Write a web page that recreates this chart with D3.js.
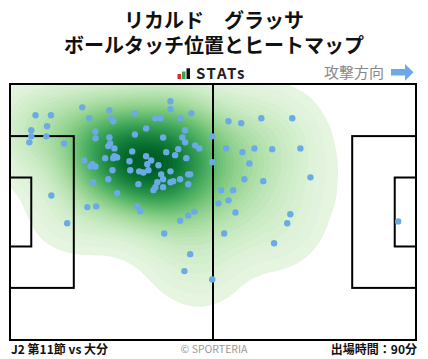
<!DOCTYPE html>
<html><head><meta charset="utf-8">
<script src="https://cdn.jsdelivr.net/npm/d3@7"></script>
<style>
html,body{margin:0;padding:0;background:#fff;}
svg{display:block;}
text{font-family:"Noto Sans CJK JP","Noto Sans",sans-serif;}
</style></head>
<body><svg id="c" width="428" height="359"></svg>
<script>
// --- data (pitch metres, 105 x 68, attack to the right) ---
const titleLines = ["リカルド　グラッサ", "ボールタッチ位置とヒートマップ"];
const footerLeft = "J2 第11節 vs 大分";
const footerCenter = "© SPORTERIA";
const footerRight = "出場時間：90分";
const touchX = [6.6,10.6,18.7,25.7,41.5,41.5,32.3,46.9,20.5,26.2,26.7,37.6,38.9,44.0,9.6,5.5,5.5,5.0,9.4,14.0,
  22.1,22.1,35.2,32.3,45.3,39.6,44.6,25.7,45.3,47.9,49.0,52.3,25.9,25.4,27.0,31.6,40.4,43.5,42.7,45.6,
  27.0,27.7,26.7,24.6,19.2,35.2,36.5,30.9,35.5,38.4,21.3,20.8,22.1,52.3,26.5,31.1,33.4,34.5,35.8,41.5,
  39.1,46.1,46.6,39.6,44.0,42.2,41.5,38.1,25.4,21.5,33.2,46.1,37.6,37.1,39.6,27.7,10.7,20.0,22.3,32.9,
  33.7,47.7,46.1,44.0,14.8,39.9,46.6,45.1,52.3,56.5,59.8,65.0,73.0,55.9,60.1,63.2,67.8,75.1,61.9,60.6,
  65.5,77.7,54.6,57.7,56.5,53.9,58.3,72.5,71.7,55.4,68.3,100.4];
const touchY = [8.3,8.3,6.2,7.0,4.6,6.7,7.8,7.8,9.1,9.1,9.9,9.1,9.1,9.1,11.2,12.3,13.9,15.5,13.9,15.8,
  12.6,14.4,11.8,13.4,12.3,14.2,14.2,14.2,15.5,16.3,17.1,13.9,15.8,16.5,17.1,17.9,18.1,17.3,18.9,19.7,
  19.2,19.5,19.7,19.7,20.3,19.2,20.3,20.5,21.3,21.6,21.3,21.9,21.9,20.8,22.9,22.9,23.2,23.5,22.9,23.2,
  24.0,24.0,24.0,25.3,25.3,25.8,26.1,26.1,25.3,26.1,26.6,26.6,27.4,28.2,27.4,29.0,29.6,32.7,32.5,32.5,
  33.8,33.9,34.9,36.3,37.0,39.7,45.2,49.7,51.9,9.9,10.4,9.1,9.1,17.1,18.1,17.1,17.3,17.1,21.1,25.3,
  25.8,24.8,28.2,28.2,30.9,31.7,34.1,34.6,37.0,39.7,42.3,36.5];

const svg = d3.select("#c");
const W = 428;
const x = d3.scaleLinear().domain([0,105]).range([10,416]);
const y = d3.scaleLinear().domain([0,68]).range([84,340]);

// title (one text block, two lines)
svg.append("text").attr("text-anchor","middle").attr("font-size",20).attr("font-weight","bold").attr("fill","#111")
  .selectAll("tspan").data(titleLines).join("tspan")
  .attr("x",W/2).attr("y",(d,i)=>28+i*25).text(d=>d);

// STATs logo
const logo = svg.append("g");
logo.append("rect").attr("x",177.5).attr("y",74).attr("width",3.5).attr("height",5).attr("fill","#e8262a");
logo.append("rect").attr("x",182).attr("y",71.5).attr("width",3.5).attr("height",7.5).attr("fill","#2ea84a");
logo.append("rect").attr("x",186.5).attr("y",68.3).attr("width",3.5).attr("height",10.7).attr("fill","#111");
logo.append("text").attr("x",196).attr("y",79).attr("font-size",15).attr("font-weight","bold")
  .attr("fill","#222").attr("font-family","'DejaVu Sans',sans-serif").attr("letter-spacing",1.6).text("STATs");

// attack direction
svg.append("text").attr("x",384).attr("y",78).attr("text-anchor","end").attr("font-size",15)
  .attr("fill","#888").text("攻撃方向");
svg.append("path").attr("d","M391,69 L405,69 L405,64 L413.5,72.3 L405,80.7 L405,75.5 L391,75.5 Z").attr("fill","#6aaae6");

// heatmap
const pts = touchX.map((v,i)=>[x(v), y(touchY[i])]);
const bw = 26;
const pre = d3.contourDensity().x(d=>d[0]).y(d=>d[1]).size([W,359]).bandwidth(bw).thresholds(200)(pts);
const maxV = d3.max(pre, d=>d.value);
const nLev = 40;
const levels = d3.range(nLev).map(i => maxV*(0.04 + 0.96*i/nLev));
const dens = d3.contourDensity().x(d=>d[0]).y(d=>d[1]).size([W,359]).bandwidth(bw).thresholds(levels)(pts);
svg.append("clipPath").attr("id","pc").append("rect").attr("x",x(0)).attr("y",y(0))
  .attr("width",x(105)-x(0)).attr("height",y(68)-y(0));
svg.append("g").attr("clip-path","url(#pc)").selectAll("path").data(dens).join("path")
  .attr("d", d3.geoPath()).attr("fill", d=>d3.interpolateGreens(0.08 + 0.86*d.value/maxV));

// pitch lines
const g = svg.append("g").attr("fill","none").attr("stroke","#000").attr("stroke-width",2);
g.append("rect").attr("x",x(0)).attr("y",y(0)).attr("width",x(105)-x(0)).attr("height",y(68)-y(0));
g.append("line").attr("x1",x(52.5)).attr("x2",x(52.5)).attr("y1",y(0)).attr("y2",y(68));
const pbY0 = 34-20.16, pbY1 = 34+20.16, gaY0 = 34-9.16, gaY1 = 34+9.16;
g.append("rect").attr("x",x(0)).attr("y",y(pbY0)).attr("width",x(16.5)-x(0)).attr("height",y(pbY1)-y(pbY0));
g.append("rect").attr("x",x(0)).attr("y",y(gaY0)).attr("width",x(5.5)-x(0)).attr("height",y(gaY1)-y(gaY0));
g.append("rect").attr("x",x(105-16.5)).attr("y",y(pbY0)).attr("width",x(105)-x(105-16.5)).attr("height",y(pbY1)-y(pbY0));
g.append("rect").attr("x",x(105-5.5)).attr("y",y(gaY0)).attr("width",x(105)-x(105-5.5)).attr("height",y(gaY1)-y(gaY0));

// touches
svg.append("g").selectAll("circle").data(pts).join("circle")
  .attr("cx",d=>d[0]).attr("cy",d=>d[1]).attr("r",3.2).attr("fill","#6aaae6");

// footer
svg.append("text").attr("x",11).attr("y",354).attr("font-size",12).attr("font-weight","bold").attr("fill","#111").text(footerLeft);
svg.append("text").attr("x",W/2).attr("y",353).attr("text-anchor","middle").attr("font-size",10.5).attr("fill","#999").text(footerCenter);
svg.append("text").attr("x",417).attr("y",354).attr("text-anchor","end").attr("font-size",12).attr("font-weight","bold").attr("fill","#111").text(footerRight);
</script></body></html>
